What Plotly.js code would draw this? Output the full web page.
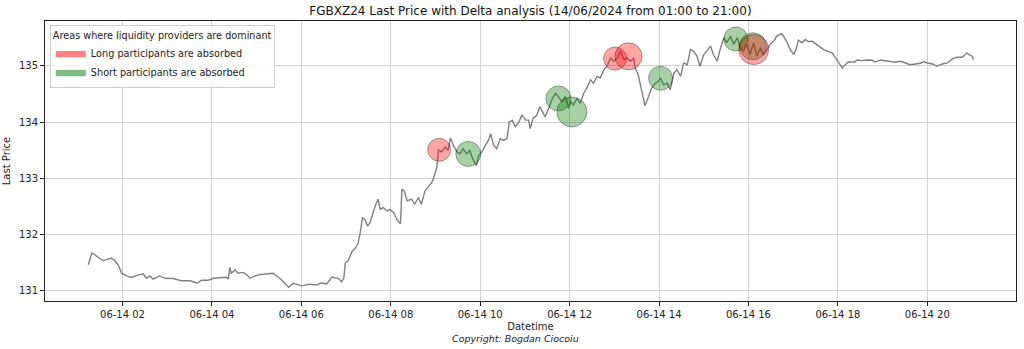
<!DOCTYPE html>
<html>
<head>
<meta charset="utf-8">
<script src="https://cdn.plot.ly/plotly-3.0.1.min.js"></script>
<style>
html,body{margin:0;padding:0;background:#fff;}
#chart{width:1024px;height:349px;}
</style>
</head>
<body>
<div id="chart"></div>
<script>
const DAY = "2024-06-14 ";

const priceTimes = ["01:14","01:19","01:23","01:27","01:34","01:38","01:45","01:50","01:54","01:59",
"02:05","02:12","02:17","02:21","02:28","02:32","02:37","02:41","02:50","02:57",
"03:08","03:19","03:31","03:40","03:46","03:55","04:02","04:13","04:20","04:22",
"04:24","04:26","04:31","04:35","04:42","04:47","04:51","04:58","05:04","05:12",
"05:22","05:31","05:43","05:49","06:01","06:11","06:20","06:27","06:34","06:41",
"06:50","06:54","06:57","06:59","07:03","07:08","07:12","07:16","07:19","07:22",
"07:25","07:29","07:32","07:35","07:39","07:43","07:46","07:50","07:55","07:59",
"08:04","08:08","08:13","08:15","08:18","08:22","08:28","08:32","08:37","08:41",
"08:46","08:50","08:55","08:57","08:59","09:02","09:04","09:06","09:08","09:13",
"09:17","09:20","09:24","09:29","09:33","09:37","09:42","09:46","09:50","09:55",
"09:58","10:02","10:07","10:11","10:14","10:18","10:22","10:27","10:31","10:36",
"10:39","10:43","10:47","10:52","10:56","11:01","11:05","11:07","11:11","11:16",
"11:20","11:24","11:27","11:32","11:36","11:41","11:45","11:50","11:54","11:59",
"12:02","12:05","12:10","12:14","12:19","12:23","12:28","12:32","12:37","12:41",
"12:46","12:50","12:55","12:59","13:04","13:08","13:13","13:17","13:22","13:26",
"13:28","13:32","13:37","13:41","13:46","13:50","13:55","13:59","14:02","14:06",
"14:11","14:15","14:20","14:24","14:29","14:33","14:38","14:42","14:46","14:51",
"14:55","15:00","15:04","15:09","15:13","15:18","15:22","15:27","15:31","15:36",
"15:40","15:45","15:49","15:53","15:58","16:02","16:07","16:11","16:16","16:20",
"16:25","16:29","16:34","16:38","16:44","16:47","16:52","16:56","17:01","17:04",
"17:07","17:12","17:16","17:21","17:25","17:30","17:34","17:41","17:48","17:52",
"17:57","18:01","18:06","18:10","18:14","18:22","18:26","18:32","18:40","18:46",
"18:50","18:57","19:04","19:11","19:17","19:24","19:31","19:37","19:44","19:51",
"19:55","20:00","20:07","20:13","20:20","20:27","20:34","20:40","20:47","20:53",
"20:57","21:00","21:02"];

const priceValues = [131.455,131.665,131.635,131.59,131.53,131.55,131.575,131.527,131.455,131.305,
131.257,131.23,131.26,131.275,131.29,131.215,131.257,131.2,131.257,131.215,
131.21,131.17,131.17,131.126,131.18,131.18,131.215,131.234,131.234,131.2,
131.41,131.305,131.365,131.305,131.32,131.275,131.215,131.257,131.28,131.29,
131.305,131.215,131.054,131.126,131.08,131.11,131.095,131.13,131.113,131.235,
131.21,131.15,131.22,131.486,131.53,131.69,131.745,131.83,132.025,132.295,
132.264,132.144,132.205,132.324,132.504,132.624,132.444,132.475,132.414,132.444,
132.385,132.264,132.187,132.804,132.773,132.594,132.624,132.534,132.655,132.534,
132.773,132.835,132.924,132.984,133.074,133.2,133.5,133.493,133.464,133.554,
133.493,133.716,133.583,133.464,133.433,133.523,133.433,133.493,133.343,133.223,
133.403,133.464,133.583,133.673,133.793,133.583,133.523,133.703,133.673,133.703,
134.003,134.033,133.913,134.003,134.122,134.033,134.033,133.883,134.063,134.122,
134.273,134.153,134.093,134.243,134.392,134.513,134.453,134.363,134.453,134.243,
134.363,134.302,134.423,134.333,134.513,134.603,134.752,134.692,134.813,134.782,
134.932,134.993,135.142,135.083,135.142,135.263,135.112,135.142,135.083,135.142,
134.962,134.842,134.543,134.291,134.453,134.603,134.692,134.723,134.782,134.662,
134.692,134.572,134.872,134.932,134.813,135.052,135.022,135.291,135.263,135.173,
134.993,135.202,135.263,135.353,135.202,135.083,135.291,135.502,135.412,135.532,
135.382,135.502,135.322,135.263,135.382,135.202,135.412,135.173,135.322,135.202,
135.291,135.382,135.442,135.532,135.574,135.532,135.412,135.291,135.202,135.30,
135.46,135.412,135.471,135.43,135.442,135.394,135.352,135.291,135.25,135.232,
135.142,135.052,134.962,135.022,135.07,135.07,135.106,135.094,135.106,135.1,
135.07,135.106,135.094,135.07,135.065,135.083,135.052,135.022,135.034,135.046,
135.076,135.052,135.034,134.993,135.034,135.052,135.13,135.155,135.155,135.232,
135.19,135.173,135.112];

// Long participants absorbed (red)
const longTimes = ["09:05","13:01","13:19","16:07"];
const longPrices = [133.505,135.13,135.17,135.29];
const longSizes = [23,23,27,30];

// Short participants absorbed (green)
const shortTimes = ["09:44","11:45","12:03","14:02","15:43","16:06"];
const shortPrices = [133.43,134.42,134.18,134.78,135.48,135.35];
const shortSizes = [25,25,30,24,24,27];

const yTicks = [131,132,133,134,135];

const toDate = arr => arr.map(t => DAY + t);

const FONT = "DejaVu Sans, sans-serif";

const traces = [
  {
    x: toDate(priceTimes), y: priceValues, type: "scatter", mode: "lines",
    line: {color: "#808080", width: 1.4}, showlegend: false, hoverinfo: "skip"
  },
  {
    x: toDate(shortTimes), y: shortPrices, type: "scatter", mode: "markers",
    marker: {size: shortSizes, color: "rgba(0,128,0,0.5)", line: {color: "rgba(0,0,0,0.5)", width: 1}},
    showlegend: false
  },
  {
    x: toDate(longTimes), y: longPrices, type: "scatter", mode: "markers",
    marker: {size: longSizes, color: "rgba(255,0,0,0.5)", line: {color: "rgba(0,0,0,0.5)", width: 1}},
    showlegend: false
  },
  {
    x: [null], y: [null], type: "scatter", mode: "lines", fill: "toself",
    fillcolor: "rgba(255,0,0,0.5)", line: {color: "rgba(255,0,0,0.5)", width: 0.5},
    name: "Long participants are absorbed", showlegend: true, legendrank: 1
  },
  {
    x: [null], y: [null], type: "scatter", mode: "lines", fill: "toself",
    fillcolor: "rgba(0,128,0,0.5)", line: {color: "rgba(0,128,0,0.5)", width: 0.5},
    name: "Short participants are absorbed", showlegend: true, legendrank: 2
  }
];

const layout = {
  width: 1024, height: 349,
  margin: {l: 45, r: 8, t: 21, b: 48},
  paper_bgcolor: "#fff", plot_bgcolor: "#fff",
  font: {family: FONT, size: 10, color: "#222"},
  title: {
    text: "FGBXZ24 Last Price with Delta analysis (14/06/2024 from 01:00 to 21:00)",
    font: {family: FONT, size: 12, color: "#111"},
    x: 0.518, xanchor: "center", y: 0.97, yanchor: "middle"
  },
  xaxis: {
    type: "date",
    range: [DAY + "00:16", DAY + "21:59"],
    tick0: DAY + "00:00", dtick: 7200000,
    tickformat: "%m-%d %H",
    showgrid: true, gridcolor: "#d0d0d0", gridwidth: 1,
    showline: true, mirror: true, linecolor: "#222", linewidth: 1,
    ticks: "outside", ticklen: 4, tickcolor: "#222",
    zeroline: false,
    tickfont: {family: FONT, size: 10, color: "#222"},
    title: {text: "Datetime", font: {family: FONT, size: 10, color: "#222"}, standoff: 3}
  },
  yaxis: {
    range: [130.81, 135.80],
    tickvals: yTicks, ticktext: yTicks.map(String),
    showgrid: true, gridcolor: "#d0d0d0", gridwidth: 1,
    showline: true, mirror: true, linecolor: "#222", linewidth: 1,
    ticks: "outside", ticklen: 4, tickcolor: "#222",
    zeroline: false,
    tickfont: {family: FONT, size: 10, color: "#222"},
    title: {text: "Last Price", font: {family: FONT, size: 10, color: "#222"}, standoff: 6}
  },
  legend: {
    x: 0.005, y: 0.985, xanchor: "left", yanchor: "top",
    bgcolor: "rgba(255,255,255,0.85)", bordercolor: "#cccccc", borderwidth: 1,
    font: {family: FONT, size: 9.7, color: "#222"},
    title: {text: "Areas where liquidity providers are dominant", font: {family: FONT, size: 9.7, color: "#222"}},
    tracegroupgap: 0, itemwidth: 30
  },
  annotations: [{
    text: "<i>Copyright: Bogdan Ciocoiu</i>",
    xref: "paper", yref: "paper", x: 0.485, y: 0, xanchor: "center", yanchor: "middle",
    yshift: -37, showarrow: false,
    font: {family: FONT, size: 9.5, color: "#222"}
  }]
};

Plotly.newPlot("chart", traces, layout, {displayModeBar: false, staticPlot: true});
</script>
</body>
</html>
